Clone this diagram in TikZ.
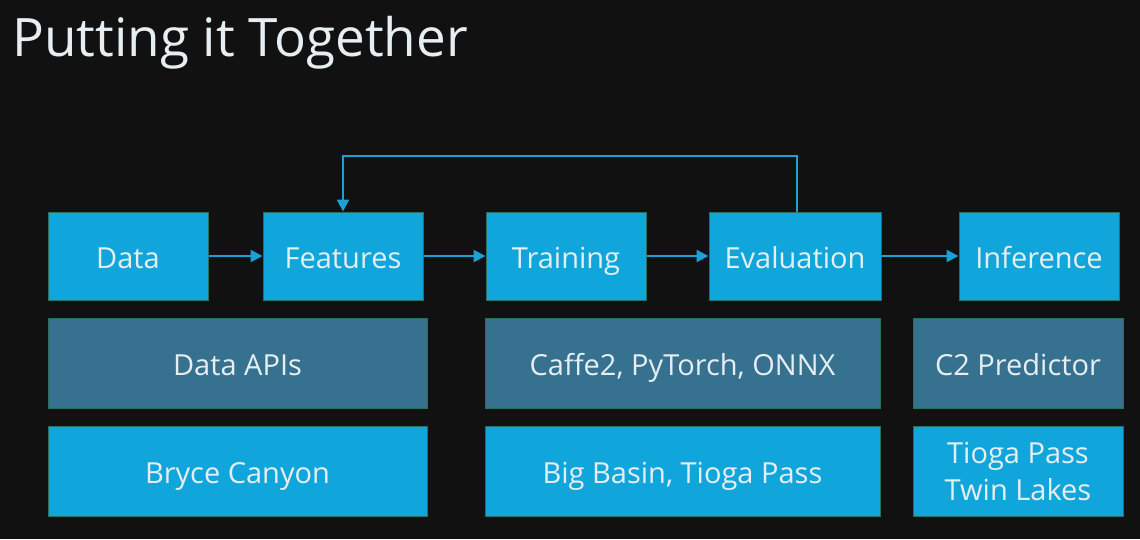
\documentclass[tikz,border=0pt]{standalone}
\usepackage{fontspec}
\setmainfont{Open Sans}
\usetikzlibrary{arrows.meta}
\definecolor{bg}{HTML}{111111}
\definecolor{brightbox}{HTML}{11A6DB}
\definecolor{darkbox}{HTML}{367290}
\definecolor{boxedge}{HTML}{2B6E62}
\definecolor{arrowc}{HTML}{1AA2D8}
\definecolor{txt}{HTML}{E6EEF2}
\begin{document}
\begin{tikzpicture}[x=1pt,y=-1pt,
  base/.style={rectangle, draw=boxedge, line width=1pt, inner sep=0pt, text=txt,
    font=\fontsize{29}{37}\selectfont, align=center},
  oneline/.style={text height=24pt, text depth=0pt},
  stage/.style={base, oneline, fill=brightbox, minimum height=88pt},
  layer/.style={base, oneline, fill=darkbox, minimum height=90pt},
  hw/.style={base, fill=brightbox, minimum height=90pt},
  flow/.style={draw=arrowc, line width=2.4pt, -{Triangle[length=12pt,width=12pt]}}]
\fill[bg] (0,0) rectangle (1140,539);
\useasboundingbox (0,0) rectangle (1140,539);
\node[anchor=base west, text=txt, font=\fontsize{53}{58}\selectfont, inner sep=0pt] (title) at (12,56) {Putting it Together};
\node[stage, minimum width=160pt] (data) at (128,256) {Data};
\node[stage, minimum width=160pt] (feat) at (343,256) {Features};
\node[stage, minimum width=160pt] (train) at (566,256) {Training};
\node[stage, minimum width=172pt] (eval) at (795,256) {Evaluation};
\node[stage, minimum width=160pt] (inf) at (1039,256) {Inference};
\node[layer, minimum width=379pt] (apis) at (237.5,363) {Data APIs};
\node[layer, minimum width=395pt] (caffe) at (682.5,363) {Caffe2, PyTorch, ONNX};
\node[layer, minimum width=210pt] (pred) at (1018,363) {C2 Predictor};
\node[hw, oneline, minimum width=379pt] (bryce) at (237.5,471) {Bryce Canyon};
\node[hw, oneline, minimum width=395pt] (basin) at (682.5,471) {Big Basin, Tioga Pass};
\node[hw, minimum width=210pt] (tioga) at (1018,471) {Tioga Pass\\Twin Lakes};
\coordinate (loopR) at (797,156);
\coordinate (loopL) at (343,156);
\draw[flow] (data) -- (feat);
\draw[flow] (feat) -- (train);
\draw[flow] (train) -- (eval);
\draw[flow] (eval) -- (inf);
\draw[flow] ([xshift=2pt]eval.north) -- (loopR) -- (loopL) -- (feat.north);
\end{tikzpicture}
\end{document}
